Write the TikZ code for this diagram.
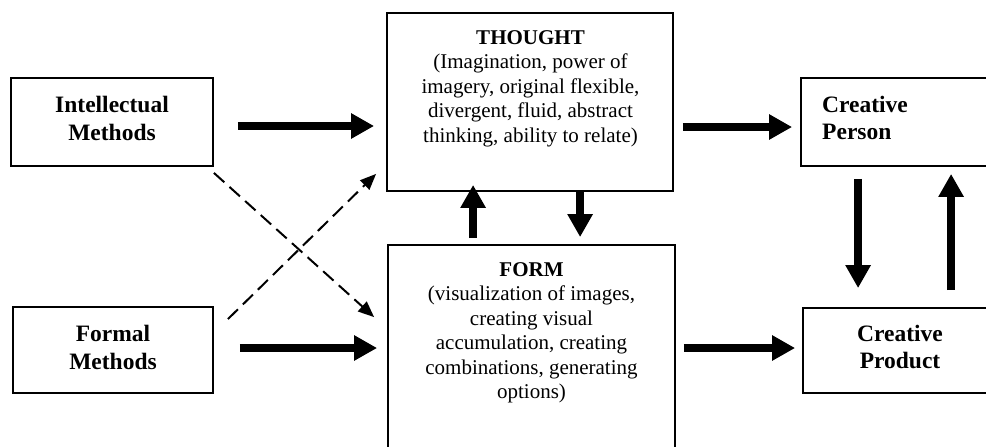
\documentclass[tikz,border=0pt]{standalone}
\usepackage{fontspec}
\setmainfont{Liberation Serif}
\usetikzlibrary{arrows.meta,calc}
\tikzset{
  box/.style={draw, line width=1.8pt, inner sep=0pt},
  sidetext/.style={font=\bfseries\fontsize{23.5}{27.5}\selectfont, align=center, inner sep=0pt, anchor=base},
  maintext/.style={font=\fontsize{21}{24.5}\selectfont, align=center, inner sep=0pt, anchor=base},
  bigarrow/.style={line width=7.5pt, -{Triangle[length=23pt,width=24pt]}},
  dasharrow/.style={line width=2pt, dash pattern=on 14pt off 7pt, -{Triangle[length=16pt,width=13pt]}}
}
\begin{document}
\begin{tikzpicture}[x=1pt,y=-1pt]
\useasboundingbox (0,0) rectangle (986,447);
\clip (0,0) rectangle (986,447);
\fill[white] (0,0) rectangle (986,447);
% boxes
\node[box, minimum width=202pt, minimum height=88pt] (intel) at (112,122) {};
\node[box, minimum width=200pt, minimum height=86pt] (formal) at (113,350) {};
\node[box, minimum width=286pt, minimum height=178pt] (thought) at (530,102) {};
\node[box, minimum width=287pt, minimum height=225pt] (form) at (531.5,357.5) {};
\node[box, minimum width=209pt, minimum height=88pt] (person) at (905.5,122) {};
\node[box, minimum width=207pt, minimum height=85pt] (product) at (906.5,350.5) {};
% texts (anchor base = baseline of last line)
\node[sidetext] (intelt) at (112,140) {Intellectual\\Methods};
\node[sidetext] (formalt) at (113,369) {Formal\\Methods};
\node[sidetext, align=left, anchor=base west] (persont) at (822,139.5) {Creative\\Person};
\node[sidetext] (productt) at (900,368.5) {Creative\\Product};
\node[maintext] (thoughtt) at (530.5,142) {\textbf{THOUGHT}\\(Imagination, power of\\imagery, original flexible,\\divergent, fluid, abstract\\thinking, ability to relate)};
\node[maintext] (formt) at (531.5,398.5) {\textbf{FORM}\\(visualization of images,\\creating visual\\accumulation, creating\\combinations, generating\\options)};
% thick arrows
\draw[bigarrow] ($(intel.east)+(24,4)$) -- ($(thought.west |- intel.east)+(-12,4)$);
\draw[bigarrow] ($(formal.east)+(26,-2)$) -- ($(form.west |- formal.east)+(-10,-2)$);
\draw[bigarrow] ($(thought.east |- person.west)+(9,5)$) -- ($(person.west)+(-8,5)$);
\draw[bigarrow] ($(form.east |- product.west)+(8,-2.5)$) -- ($(product.west)+(-7,-2.5)$);
\draw[bigarrow] ($(form.north west)+(86,-6)$) -- ($(thought.south west)+(87,-7)$);
\draw[bigarrow] ($(thought.south west)+(194,0)$) -- ($(form.north west)+(193,-7)$);
\draw[bigarrow] ($(person.south west)+(58,12)$) -- ($(product.north west)+(56,-19)$);
\draw[bigarrow] ($(product.north west)+(149,-17)$) -- ($(person.south west)+(151,7)$);
% dashed arrows
\draw[dasharrow] ($(intel.south east)+(0,6)$) -- ($(form.north west)+(-13,73)$);
\draw[dasharrow] ($(formal.north east)+(14,13)$) -- ($(thought.south west)+(-10,-18)$);
\end{tikzpicture}
\end{document}
